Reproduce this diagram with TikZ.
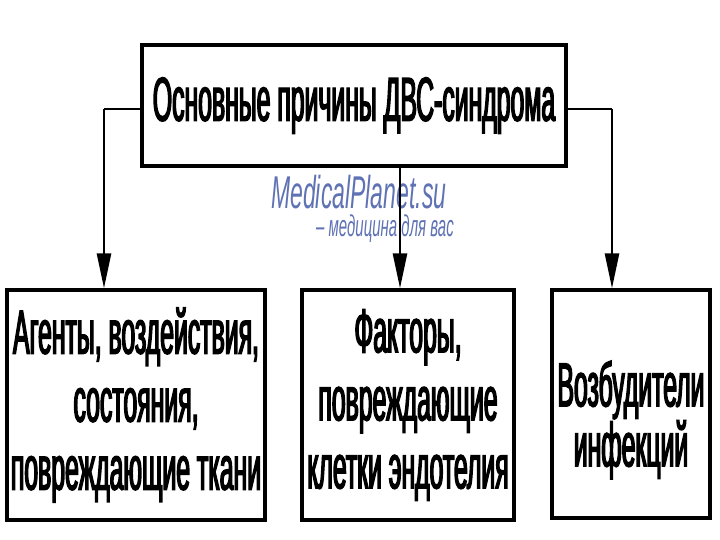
\documentclass[tikz,border=0pt]{standalone}
\usepackage{fontspec}
\setmainfont{Liberation Sans}
\newfontfamily\nar[FakeStretch=0.4,FakeBold=2.2]{Liberation Sans}
\newfontfamily\wm[FakeStretch=0.5]{Liberation Sans}
\usetikzlibrary{arrows.meta}
\definecolor{wmblue}{RGB}{95,115,180}
\begin{document}
\begin{tikzpicture}[x=1pt,y=-1pt,
  box/.style={draw=black,line width=3.2pt,fill=white,inner sep=0pt,align=center,
    font=\nar\fontsize{62}{68}\selectfont},
  label text/.style={inner sep=0pt,align=center,font=\nar\fontsize{62}{60}\selectfont},
  conn/.style={line width=2.6pt,-{Triangle[length=35pt,width=14pt]}},
  wmark/.style={text=wmblue,inner sep=0pt}]
\useasboundingbox[fill=white] (0,0) rectangle (720,540);
\node[box,minimum width=424pt,minimum height=121pt] (top) at (354,105.5)
  {Основные причины ДВС-синдрома};
\node[box,minimum width=258pt,minimum height=230pt] (left) at (136,405)
  {Агенты, воздействия,\\состояния,\\повреждающие ткани};
\node[box,minimum width=212pt,minimum height=230pt] (mid) at (408,405)
  {Факторы,\\повреждающие\\клетки эндотелия};
\node[box,minimum width=158pt,minimum height=228pt] (right) at (631,404) {};
\node[label text] (righttext) at (631,420) {Возбудители\\инфекций};
\node[wmark,font=\wm\itshape\fontsize{46}{46}\selectfont,anchor=west] (w1) at (271,192) {MedicalPlanet.su};
\node[wmark,font=\wm\itshape\fontsize{30}{30}\selectfont,anchor=west] (w2) at (316,229) {– медицина для вас};
\coordinate (lc) at (104,109);
\coordinate (rc) at (612,109);
\coordinate (mc) at (400,109);
\draw[line width=2.6pt] (top.west |- lc) -- (lc);
\draw[line width=2.6pt] (top.east |- rc) -- (rc);
\draw[conn] (lc) -- (lc |- left.north);
\draw[conn] (rc) -- (rc |- right.north);
\draw[conn] (mc |- top.south) -- (mc |- mid.north);
\end{tikzpicture}
\end{document}
